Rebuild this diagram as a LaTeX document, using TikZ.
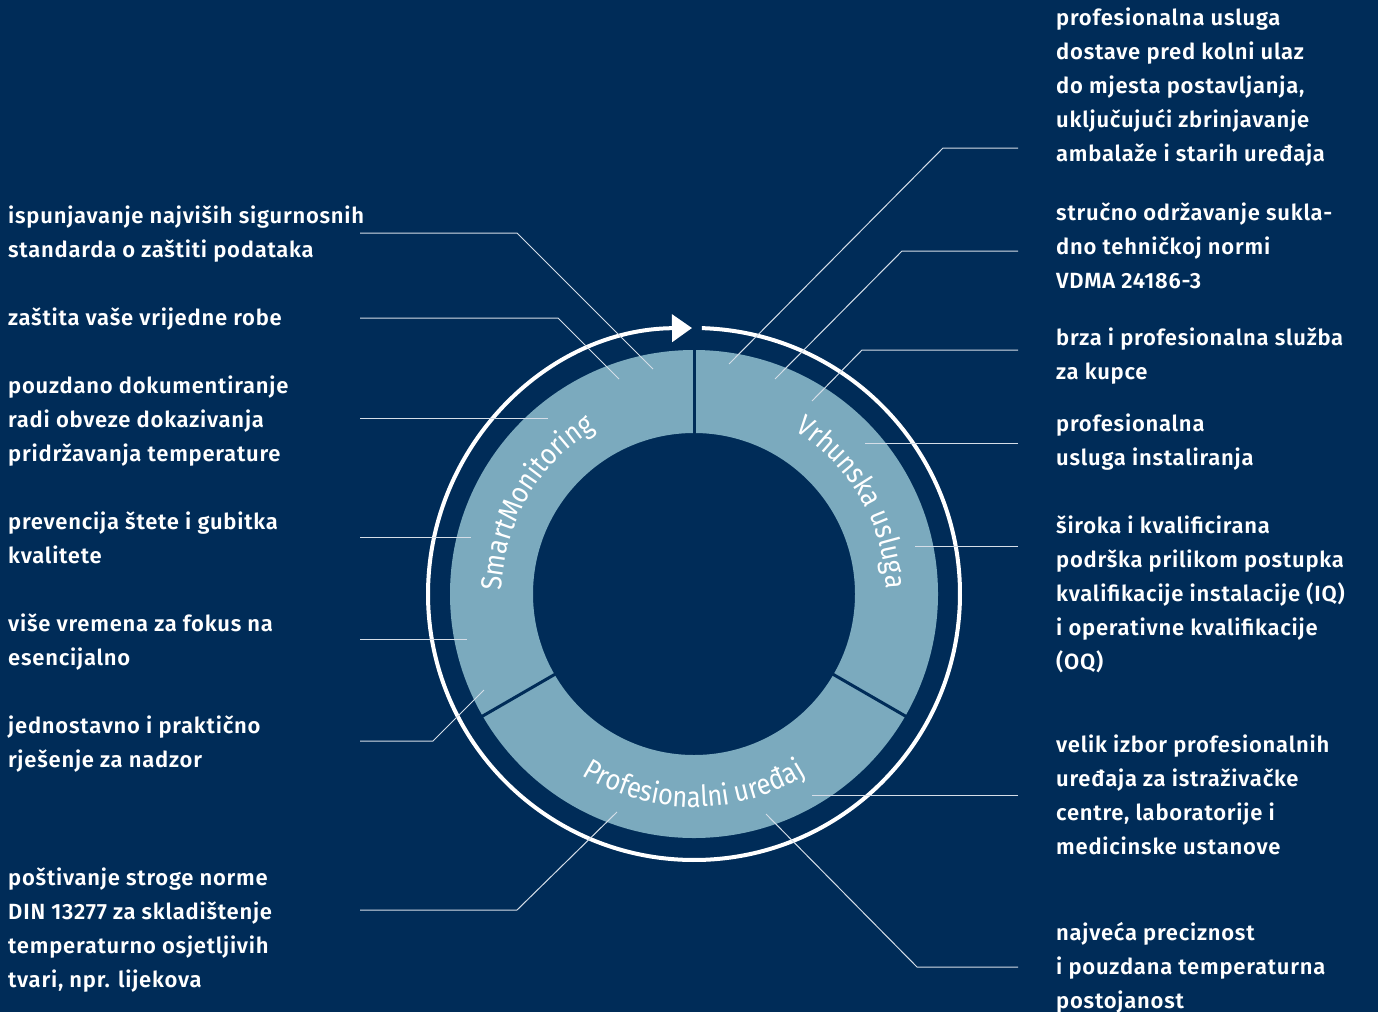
\documentclass[tikz,border=0pt]{standalone}
\usepackage{fontspec}
\setmainfont{Fira Sans}[BoldFont={Fira Sans SemiBold},LetterSpace=3.5]
\newfontfamily\ringfont{Fira Sans}[FakeStretch=0.88]
\usetikzlibrary{arrows.meta,decorations.text}
\definecolor{navy}{HTML}{002C58}
\definecolor{ringblue}{HTML}{7BAABE}
\definecolor{leader}{HTML}{D5DEE8}

\begin{document}
\begin{tikzpicture}[x=1pt,y=1pt,
    txt/.style={anchor=north west,inner sep=0pt,align=left,text=white,
      font=\fontsize{22}{34}\selectfont\bfseries},
    lead/.style={draw=leader,line width=1pt},
    divider/.style={draw=navy,line width=3pt},
    ringtext/.style={decorate,decoration={text along path,text align=center,
      text={|\ringfont\fontsize{29}{29}\selectfont\color{white}|#1}}}]

    \fill[navy] (0,0) rectangle (1378,-1012);
    \useasboundingbox (0,0) rectangle (1378,-1012);

    \coordinate (c) at (694,-594);

    \fill[ringblue,even odd rule] (c) circle[radius=244] (c) circle[radius=161];
    \draw[divider] ([shift={(90:160)}]c) -- ([shift={(90:245)}]c);
    \draw[divider] ([shift={(-30:160)}]c) -- ([shift={(-30:245)}]c);
    \draw[divider] ([shift={(210:160)}]c) -- ([shift={(210:245)}]c);

    \draw[white,line width=4pt,-{Triangle[length=20pt,width=27pt]}]
      ([shift={(88.3:266)}]c) arc[start angle=88.3,end angle=-269.57,radius=266];

    \path[ringtext=SmartMonitoring] ([shift={(210:192)}]c) arc[start angle=210,end angle=90,radius=192];
    \path[ringtext=Vrhunska usluga] ([shift={(90:192)}]c) arc[start angle=90,end angle=-30,radius=192];
    \path[ringtext=Profesionalni uređaj] ([shift={(210:213)}]c) arc[start angle=210,end angle=330,radius=213];

    \node[txt] (l1) at (8,-199) {\strut ispunjavanje najviših sigurnosnih\\standarda o zaštiti podataka};
    \node[txt] (l2) at (8,-301) {\strut zaštita vaše vrijedne robe};
    \node[txt] (l3) at (8,-369) {\strut pouzdano dokumentiranje\\radi obveze dokazivanja\\pridržavanja temperature};
    \node[txt] (l4) at (8,-505) {\strut prevencija štete i gubitka\\kvalitete};
    \node[txt] (l5) at (8,-607) {\strut više vremena za fokus na\\esencijalno};
    \node[txt] (l6) at (8,-709) {\strut jednostavno i praktično\\rješenje za nadzor};
    \node[txt] (l7) at (8,-861) {\strut poštivanje stroge norme\\DIN 13277 za skladištenje\\temperaturno osjetljivih\\tvari, npr. lijekova};

    \node[txt] (r1) at (1056,-1) {\strut profesionalna usluga\\dostave pred kolni ulaz\\do mjesta postavljanja,\\uključujući zbrinjavanje\\ambalaže i starih uređaja};
    \node[txt] (r2) at (1056,-196) {\strut stručno održavanje sukla-\\dno tehničkoj normi\\VDMA 24186-3};
    \node[txt] (r3) at (1056,-321) {\strut brza i profesionalna služba\\za kupce};
    \node[txt] (r4) at (1056,-407) {\strut profesionalna\\usluga instaliranja};
    \node[txt] (r5) at (1056,-509) {\strut široka i kvalificirana\\podrška prilikom postupka\\kvalifikacije instalacije (IQ)\\i operativne kvalifikacije\\(OQ)};
    \node[txt] (r6) at (1056,-728) {\strut velik izbor profesionalnih\\uređaja za istraživačke\\centre, laboratorije i\\medicinske ustanove};
    \node[txt] (r7) at (1056,-916) {\strut najveća preciznost\\i pouzdana temperaturna\\postojanost};

    \coordinate (a1) at (360,-233);  \coordinate (b1) at (653,-369);
    \coordinate (a2) at (360,-318);  \coordinate (b2) at (619,-379);
    \coordinate (a3) at (360,-418);  \coordinate (b3) at (548,-418);
    \coordinate (a4) at (360,-537);  \coordinate (b4) at (471,-537);
    \coordinate (a5) at (360,-639);  \coordinate (b5) at (467,-639);
    \coordinate (a6) at (360,-741);  \coordinate (b6) at (484,-690);
    \coordinate (a7) at (360,-910);  \coordinate (b7) at (617,-812);

    \coordinate (d1) at (1018,-148); \coordinate (e1) at (729,-364);
    \coordinate (d2) at (1018,-251); \coordinate (e2) at (775,-379);
    \coordinate (d3) at (1018,-350); \coordinate (e3) at (812,-401);
    \coordinate (d4) at (1018,-443); \coordinate (e4) at (865,-443);
    \coordinate (d5) at (1018,-546); \coordinate (e5) at (915,-546);
    \coordinate (d6) at (1018,-795); \coordinate (e6) at (812,-795);
    \coordinate (d7) at (1018,-967); \coordinate (e7) at (766,-814);

    \draw[lead] (a1) -- ++(157,0) -- (b1);
    \draw[lead] (a2) -- ++(198,0) -- (b2);
    \draw[lead] (a3) -- (b3);
    \draw[lead] (a4) -- (b4);
    \draw[lead] (a5) -- (b5);
    \draw[lead] (a6) -- ++(73,0) -- (b6);
    \draw[lead] (a7) -- ++(157,0) -- (b7);

    \draw[lead] (d1) -- ++(-75,0) -- (e1);
    \draw[lead] (d2) -- ++(-116,0) -- (e2);
    \draw[lead] (d3) -- ++(-156,0) -- (e3);
    \draw[lead] (d4) -- (e4);
    \draw[lead] (d5) -- (e5);
    \draw[lead] (d6) -- (e6);
    \draw[lead] (d7) -- ++(-101,0) -- (e7);

\end{tikzpicture}
\end{document}
